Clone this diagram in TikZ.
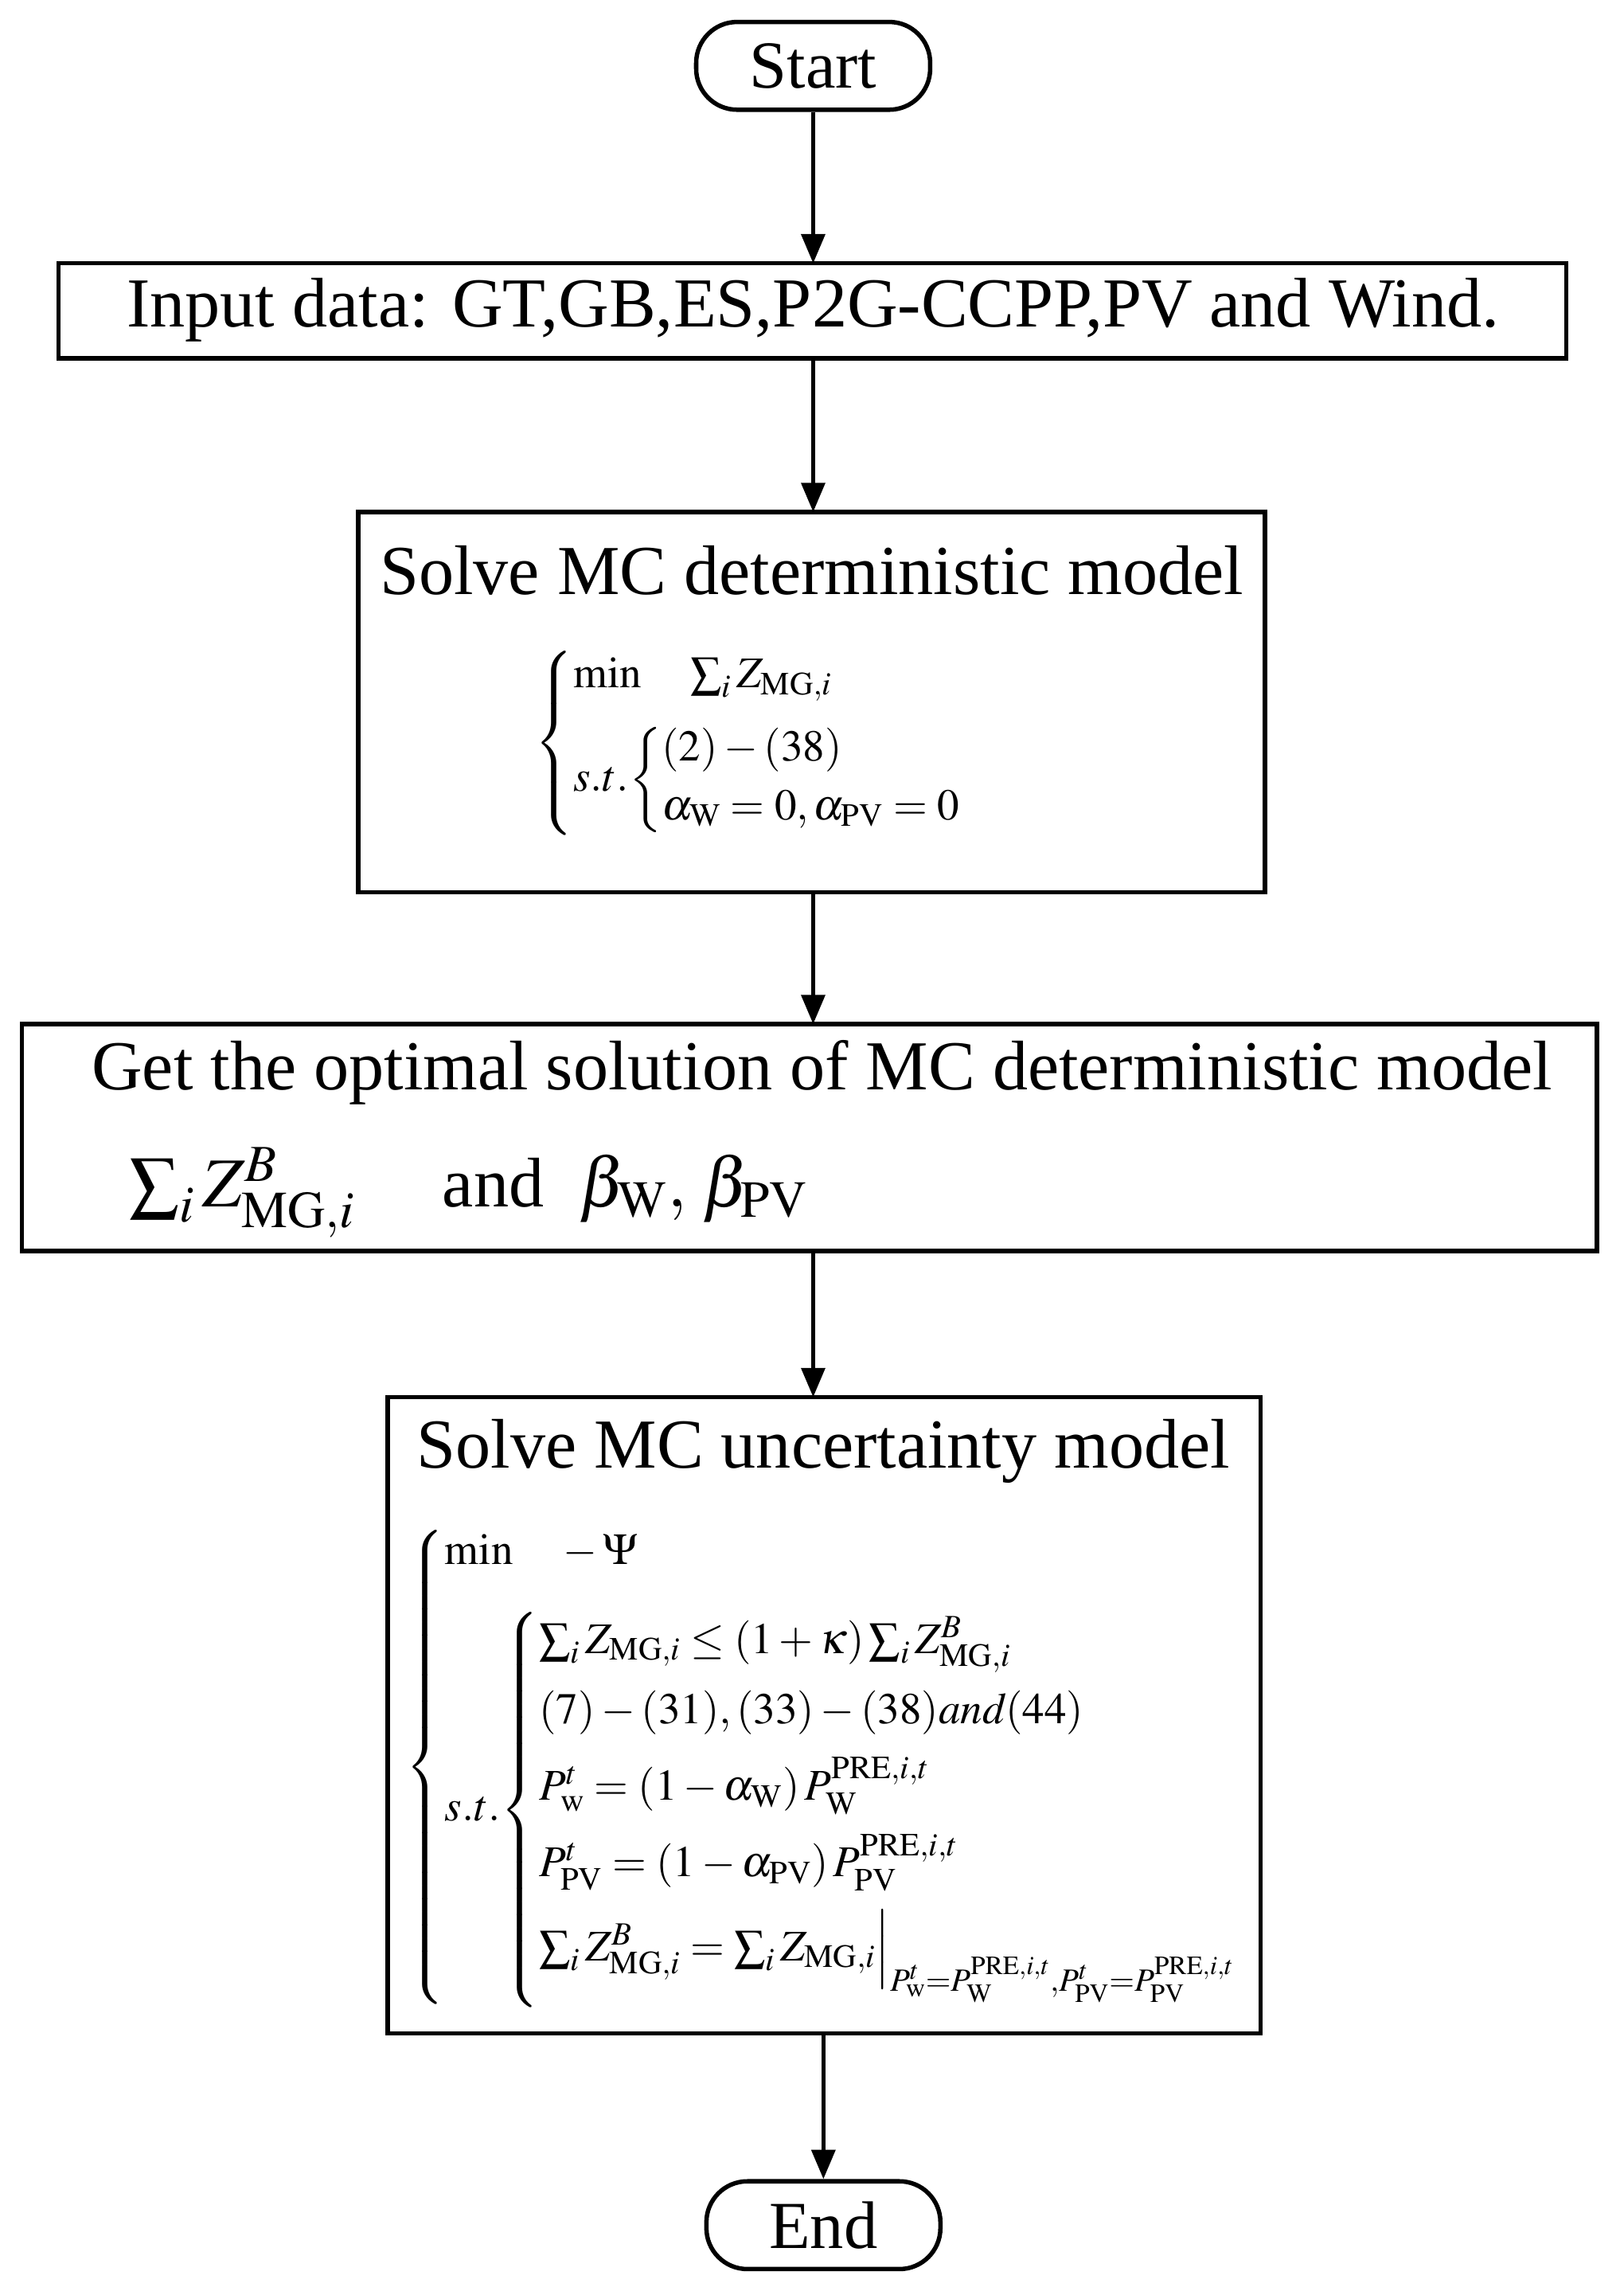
\documentclass[tikz,border=0pt]{standalone}
\usepackage{amsmath}
\usepackage{mathptmx}
\usepackage{fontspec}
\setmainfont{Liberation Serif}
\usetikzlibrary{arrows.meta}
\begin{document}
\begin{tikzpicture}[x=1pt,y=-1pt,
 box/.style={draw,line width=3pt,inner sep=0pt},
 term/.style={draw,line width=3pt,rounded corners=28pt,minimum width=160pt,minimum height=60pt,font=\fontsize{46}{52}\selectfont},
 ttl/.style={font=\fontsize{48}{56}\selectfont},
 mth/.style={font=\fontsize{30}{36}\selectfont},
 arr/.style={line width=3pt,-{Triangle[length=20pt,width=16pt]}}]
\useasboundingbox (0,0) rectangle (1110,1566);
\node[term] (start) at (556,45) {Start};
\draw[box] (40,180) rectangle (1071,245);
\coordinate (inT) at (556,180); \coordinate (inB) at (556,245);
\node[ttl] (in) at (556,212) {Input data: GT,GB,ES,P2G-CCPP,PV and Wind.};
\draw[box] (245,350) rectangle (865,610);
\coordinate (d1T) at (556,350); \coordinate (d1B) at (556,610);
\node[ttl] (d1) at (555,390) {Solve MC deterministic model};
\node[mth,anchor=west] (f1) at (362,508) {$\left\{\begin{array}{@{}l@{}}\mathrm{min}\quad \sum_i Z_{\mathrm{MG},i}\\[14pt]
 s.t.\!\left\{\begin{array}{@{}l@{}}(2)-(38)\\[4pt] \alpha_{\mathrm{W}}=0,\alpha_{\mathrm{PV}}=0\end{array}\right.\end{array}\right.$};
\draw[box] (15,700) rectangle (1092,855);
\coordinate (gT) at (556,700); \coordinate (gB) at (556,855);
\node[ttl] (g) at (562,733) {Get the optimal solution of MC deterministic model};
\node[ttl,anchor=west] (g2) at (85,815) {$\sum_i Z^{B}_{\mathrm{MG},i}$\quad\ and\ \ $\beta_{\mathrm{W}},\,\beta_{\mathrm{PV}}$};
\draw[box] (265,955) rectangle (862,1390);
\coordinate (uT) at (556,955); \coordinate (uB) at (563,1390);
\node[ttl] (u) at (563,992) {Solve MC uncertainty model};
\node[mth,anchor=west] (f2) at (274,1208) {$\left\{\begin{array}{@{}l@{}}\mathrm{min}\quad -\Psi\\[22pt]
 s.t.\!\left\{\begin{array}{@{}l@{}}\sum_i Z_{\mathrm{MG},i}\le(1+\kappa)\sum_i Z^{B}_{\mathrm{MG},i}\\[12pt]
 (7)-(31),(33)-(38)\mathit{and}(44)\\[12pt]
 P^{t}_{\mathrm{w}}=\left(1-\alpha_{\mathrm{W}}\right)P^{\mathrm{PRE},i,t}_{\mathrm{W}}\\[12pt]
 P^{t}_{\mathrm{PV}}=\left(1-\alpha_{\mathrm{PV}}\right)P^{\mathrm{PRE},i,t}_{\mathrm{PV}}\\[12pt]
 \sum_i Z^{B}_{\mathrm{MG},i}=\sum_i Z_{\mathrm{MG},i}\Big|_{P^t_{\mathrm{w}}=P^{\mathrm{PRE},i,t}_{\mathrm{W}},P^t_{\mathrm{PV}}=P^{\mathrm{PRE},i,t}_{\mathrm{PV}}}
 \end{array}\right.\\[2pt]\end{array}\right.$};
\node[term] (end) at (563,1521) {End};
\draw[arr] (start) -- (inT);
\draw[arr] (inB) -- (d1T);
\draw[arr] (d1B) -- (gT);
\draw[arr] (gB) -- (uT);
\draw[arr] (uB) -- (end);
\end{tikzpicture}
\end{document}
